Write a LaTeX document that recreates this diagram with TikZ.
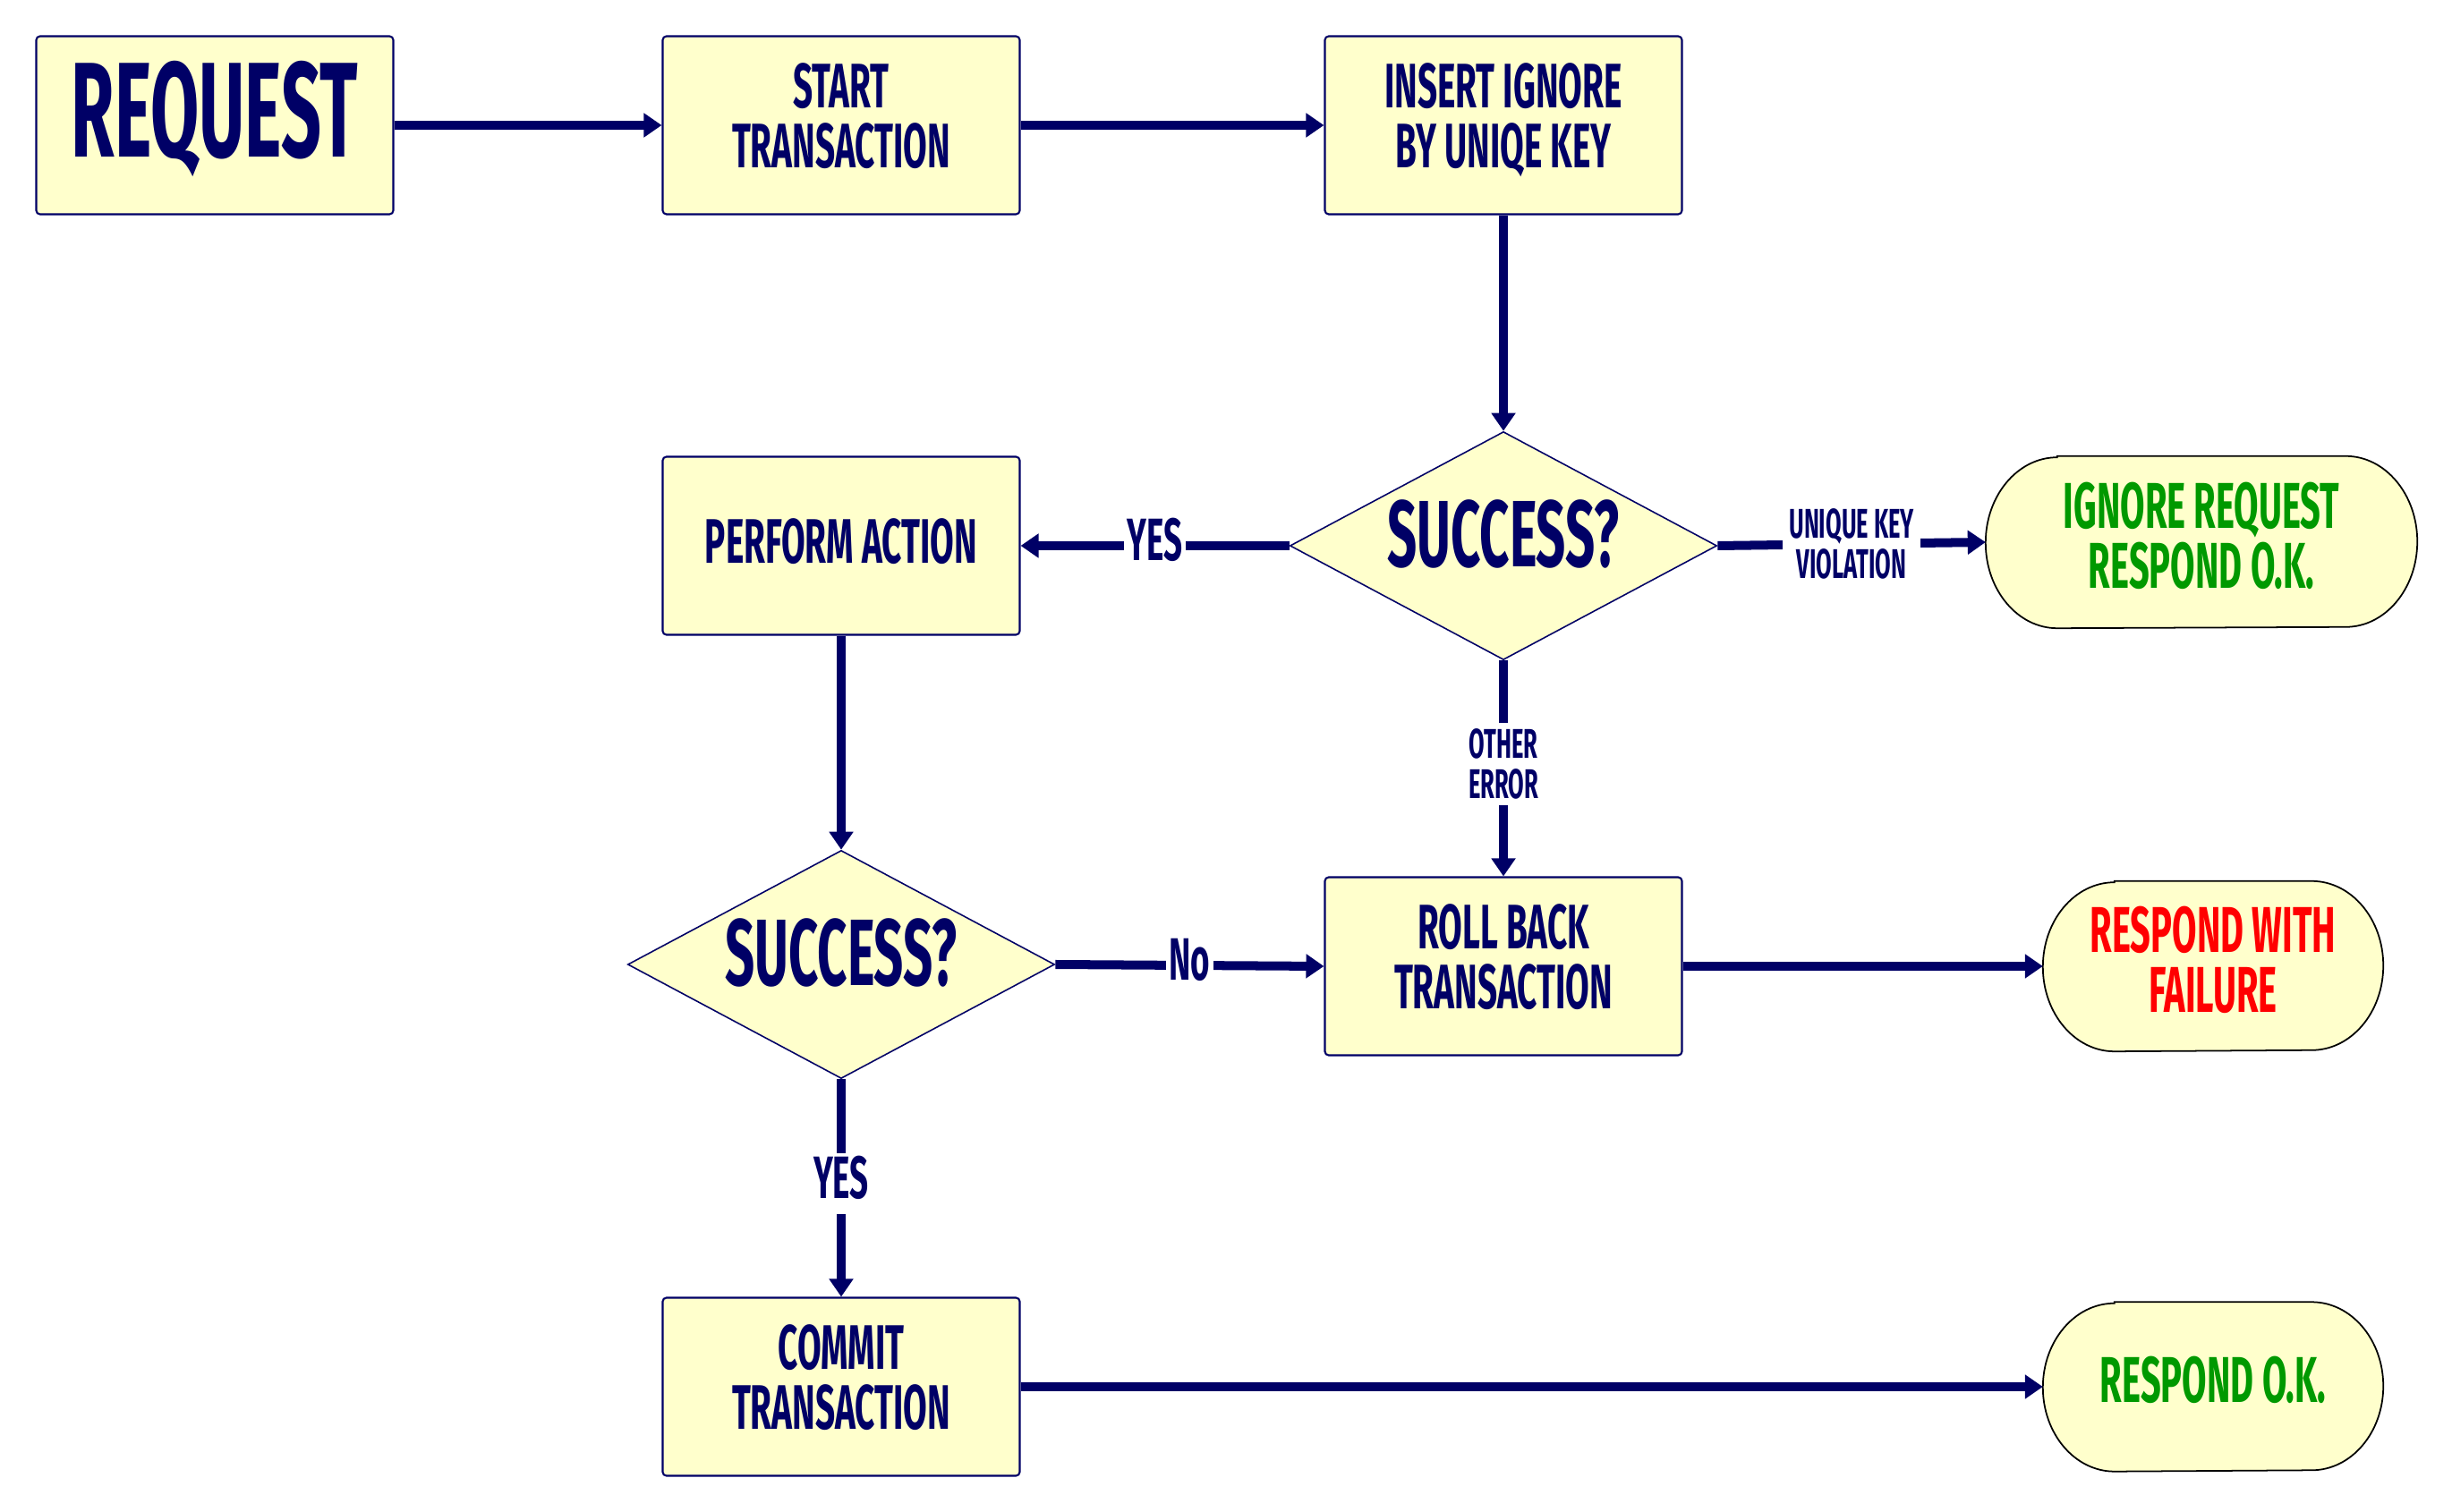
\documentclass[tikz,border=0pt]{standalone}
\usepackage{fontspec}
\setmainfont{Fira Sans}[FakeStretch=0.55]
\newfontfamily\reqfont{Fira Sans}[FakeStretch=0.52]
\usetikzlibrary{arrows.meta,shapes.geometric,calc,backgrounds}
\definecolor{navy}{HTML}{000066}
\definecolor{pale}{HTML}{FFFFCC}
\definecolor{okgreen}{HTML}{009900}
\definecolor{bad}{HTML}{FF0000}
\newcommand\termshape[3]{%
  \filldraw[draw=black, line width=0.5pt, fill=pale]
    ($(#1.north west)+(#2,0)$) -- ($(#1.north east)-(#2,0)$)
    arc[start angle=90,end angle=-90,x radius=#2 cm,y radius=#3 cm]
    -- ($(#1.south west)+(#2,0)$)
    arc[start angle=270,end angle=90,x radius=#2 cm,y radius=#3 cm] -- cycle;}
\begin{document}
\begin{tikzpicture}[x=1cm,y=-1cm,
  box/.style={draw=navy, line width=0.6pt, fill=pale, rounded corners=1.2pt,
    minimum width=3.99cm, minimum height=1.99cm, align=center, text=navy,
    font=\bfseries\fontsize{20}{19}\selectfont, inner sep=0pt, text depth=0.22cm},
  dec/.style={diamond, draw=navy, line width=0.45pt, fill=pale, aspect=1.87,
    minimum width=4.77cm, minimum height=2.55cm, inner sep=0pt, text=navy,
    font=\bfseries\fontsize{30}{30}\selectfont, text depth=0.28cm},
  term/.style={minimum width=#1, align=center, inner sep=0pt,
    font=\bfseries\fontsize{20.6}{19}\selectfont, text depth=0.16cm},
  arr/.style={draw=navy, line width=2.85pt, -{Triangle[length=0.2cm,width=0.26cm]}},
  lbl/.style={fill=white, text=navy, inner sep=1pt, text depth=0.14cm,
    font=\bfseries\fontsize{19}{19}\selectfont},
  slbl/.style={fill=white, text=navy, inner sep=2pt, align=center,
    font=\bfseries\fontsize{13.2}{12.8}\selectfont}
]
\useasboundingbox (0,0) rectangle (27.40,16.90);

\node[box, font=\reqfont\bfseries\fontsize{43}{43}\selectfont, text depth=0.36cm] (req) at (2.40,1.40) {REQUEST};
\node[box] (start) at (9.40,1.40) {START\\TRANSACTION};
\node[box] (ins) at (16.80,1.40) {INSERT IGNORE\\BY UNIQE KEY};
\node[dec] (d1) at (16.80,6.10) {SUCCESS?};
\node[box, text depth=0.1cm] (perf) at (9.40,6.10) {PERFORM ACTION};
\node[term=4.81cm, minimum height=1.91cm, text=okgreen] (ign) at (24.60,6.06) {IGNORE REQUEST\\RESPOND O.K.};
\node[dec] (d2) at (9.40,10.78) {SUCCESS?};
\node[box] (roll) at (16.80,10.80) {ROLL BACK\\TRANSACTION};
\node[term=3.79cm, minimum height=1.89cm, text=bad] (fail) at (24.73,10.80) {RESPOND WITH\\FAILURE};
\node[box] (commit) at (9.40,15.50) {COMMIT\\TRANSACTION};
\node[term=3.79cm, minimum height=1.88cm, text=okgreen] (ok) at (24.73,15.50) {RESPOND O.K.};

\begin{scope}[on background layer]
  \fill[white] (0,0) rectangle (27.40,16.90);
  \termshape{ign}{0.8}{0.955}
  \termshape{fail}{0.8}{0.945}
  \termshape{ok}{0.8}{0.94}
\end{scope}

\draw[arr] (req.east) -- (start.west);
\draw[arr] (start.east) -- (ins.west);
\draw[arr] (ins.south) -- (d1.north);
\draw[arr] (d1.west) -- node[lbl] (lyes1) {YES} (perf.east);
\draw[arr] (d1.east) -- node[slbl] (luk) {UNIQUE KEY\\VIOLATION} (ign.west);
\draw[arr] (d1.south) -- node[slbl, pos=0.48] (loe) {OTHER\\ERROR} (roll.north);
\draw[arr] (perf.south) -- (d2.north);
\draw[arr] (d2.east) -- node[lbl] (lno) {No} (roll.west);
\draw[arr] (d2.south) -- node[lbl, pos=0.48] (lyes2) {YES} (commit.north);
\draw[arr] (roll.east) -- (fail.west);
\draw[arr] (commit.east) -- (ok.west);
\end{tikzpicture}
\end{document}
